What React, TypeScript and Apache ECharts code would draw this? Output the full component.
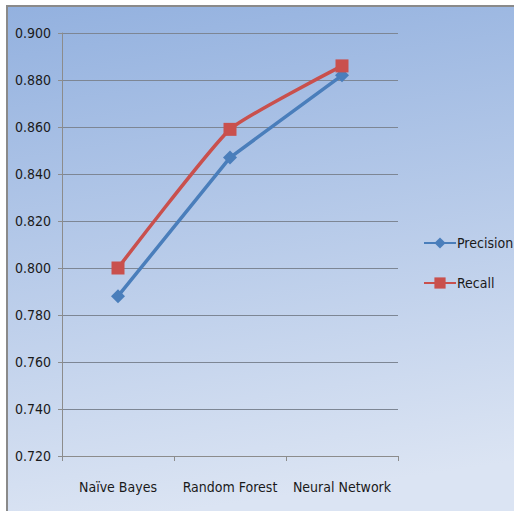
import React, { useEffect, useRef } from "react";
import * as echarts from "echarts";

const categories = ["Naïve Bayes", "Random Forest", "Neural Network"];
const precision = [0.788, 0.847, 0.882];
const recall = [0.8, 0.859, 0.886];
const seriesNames = ["Precision", "Recall"];

export default function App() {
  const ref = useRef<HTMLDivElement>(null);
  useEffect(() => {
    const chart = echarts.init(ref.current!, null, { renderer: "svg" });
    const font = "'DejaVu Sans Condensed', 'Liberation Sans Narrow', sans-serif";
    chart.setOption({
      animation: false,
      backgroundColor: "#ffffff",
      graphic: [
        {
          type: "rect",
          z: -10,
          silent: true,
          shape: { x: 7, y: 6, width: 520, height: 520 },
          style: {
            fill: new echarts.graphic.LinearGradient(0, 0, 0.15, 1, [
              { offset: 0, color: "#93b1df" },
              { offset: 1, color: "#dbe4f3" },
            ]),
            stroke: "#8a8a8a",
            lineWidth: 2,
          },
        },
      ],
      grid: { left: 62, top: 33, right: 116, bottom: 55, containLabel: false },
      legend: {
        orient: "vertical",
        left: 418,
        top: 231,
        itemGap: 26,
        itemWidth: 32,
        itemHeight: 14,
        data: seriesNames,
        textStyle: { fontFamily: font, fontSize: 14, color: "#1a1a1a", padding: [0, 0, 0, -4] },
      },
      xAxis: {
        type: "category",
        data: categories,
        boundaryGap: true,
        axisLine: { lineStyle: { color: "#8c8c8c", width: 1 } },
        axisTick: { show: true, length: 5, lineStyle: { color: "#8c8c8c" } },
        axisLabel: { interval: 0, margin: 24, fontFamily: font, fontSize: 14, color: "#1a1a1a" },
      },
      yAxis: {
        type: "value",
        min: 0.72,
        max: 0.9,
        interval: 0.02,
        axisLine: { show: true, lineStyle: { color: "#8c8c8c", width: 1 } },
        axisTick: { show: true, length: 4, lineStyle: { color: "#8c8c8c" } },
        splitLine: { lineStyle: { color: "#7d8694", width: 1 } },
        axisLabel: {
          margin: 11,
          fontFamily: font,
          fontSize: 14,
          color: "#1a1a1a",
          formatter: (v: number) => v.toFixed(3),
        },
      },
      series: [
        {
          name: seriesNames[0],
          type: "line",
          data: precision,
          symbol: "diamond",
          symbolSize: 14,
          color: "#4a7ebb",
          lineStyle: { width: 3.5, color: "#4a7ebb" },
          itemStyle: { color: "#4a7ebb" },
        },
        {
          name: seriesNames[1],
          type: "line",
          data: recall,
          symbol: "rect",
          symbolSize: 13,
          smooth: 0.15,
          color: "#c9504d",
          lineStyle: { width: 3.5, color: "#c9504d" },
          itemStyle: { color: "#c9504d" },
        },
      ],
    });
    return () => chart.dispose();
  }, []);
  return (
    <div
      ref={ref}
      style={{ position: "fixed", left: 0, top: 0, width: 514, height: 511 }}
    />
  );
}
